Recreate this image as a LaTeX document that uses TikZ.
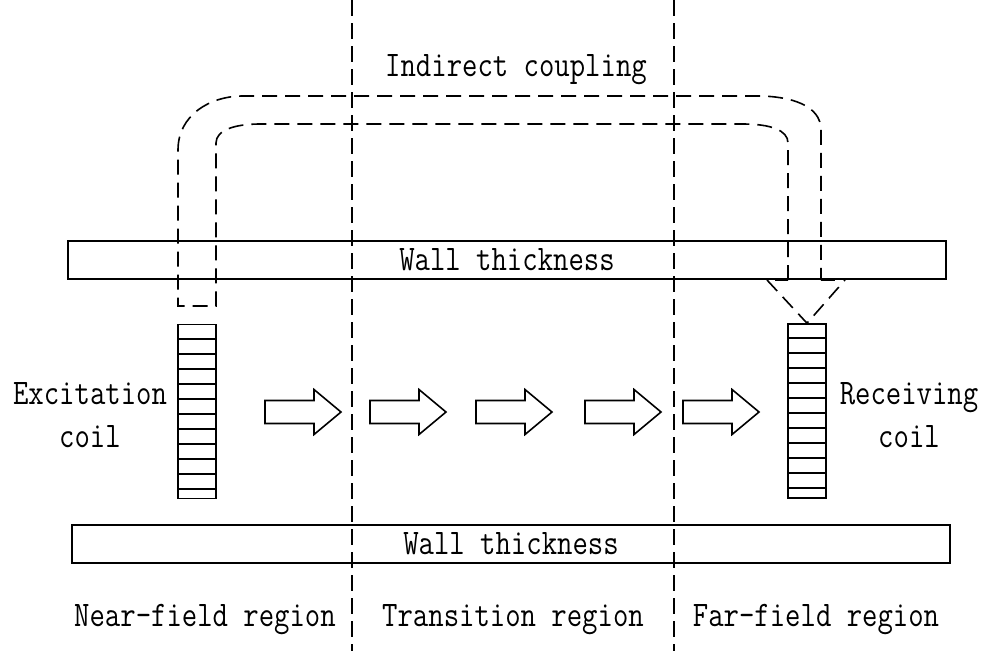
\documentclass[tikz,border=0pt]{standalone}
\usepackage{fontspec}
\setmainfont{Latin Modern Mono}[FakeStretch=0.83]
\usetikzlibrary{calc}

\begin{document}
\begin{tikzpicture}[
  x=1pt, y=-1pt,
  font=\fontsize{36}{43}\selectfont,
  wall/.style={rectangle, draw, line width=1.6pt, inner sep=0pt,
               minimum width=878pt, minimum height=38pt},
  coil/.style={rectangle, draw, line width=1.6pt, inner sep=0pt,
               minimum width=38pt, minimum height=174pt},
  lab/.style={inner sep=0pt, align=center},
  divider/.style={line width=1.6pt, dash pattern=on 16pt off 7pt},
  loop/.style={line width=1.6pt, dash pattern=on 15pt off 8pt},
  flow/.pic={\draw[line width=1.6pt, line join=miter]
      (0,-11.5) -- (49,-11.5) -- (49,-22.5) -- (76,0) -- (49,22.5)
      -- (49,11.5) -- (0,11.5) -- cycle;},
]
\useasboundingbox (0,0) rectangle (984,651);

% ---------------------------------------------------------------- region borders
\draw[divider] (352,0) -- (352,651);
\draw[divider] (674,0) -- (674,651);

% ---------------------------------------------------------------- walls
\node[wall] (topwall) at (507,260) {Wall thickness};
\node[wall] (botwall) at (511,544) {Wall thickness};

% ---------------------------------------------------------------- coils
\node[coil] (excite) at (197,411.5) {};
\node[coil] (receive) at (807,411) {};
\foreach \k in {1,...,11} {
  \draw[line width=1.6pt] ($(excite.north west)+(0,15*\k)$) -- ($(excite.north east)+(0,15*\k)$);
  \draw[line width=1.6pt] ($(receive.north west)+(0,15*\k)$) -- ($(receive.north east)+(0,15*\k)$);
}

\node[lab] (excitelab) at (90,415) {Excitation\\coil};
\node[lab] (receivelab) at (909,415) {Receiving\\coil};

% ---------------------------------------------------------------- field arrows
\foreach \x in {265,370,476,585,683}
  \pic at (\x,412) {flow};

% ---------------------------------------------------------------- indirect path
\coordinate (exitin) at (216,306);
\coordinate (exitout) at (178,306);
\coordinate (entin) at (788,280);
\coordinate (entout) at (821,280);
\coordinate (apex) at (receive.north);

\draw[loop] (entin) -- (788,143) .. controls (788,130) and (770,124) .. (743,124)
  -- (260,124) .. controls (235,124) and (216,130) .. (216,143)
  -- (exitin) -- (exitout) -- (178,150)
  .. controls (178,115) and (210,96) .. (243,96) -- (757,96)
  .. controls (790,96) and (821,105) .. (821,130) -- (entout);
\draw[line width=2.4pt] ($(entin)+(-13,0)$) -- (entin);
\draw[line width=2.4pt] (entout) -- ($(entout)+(14,0)$);
\draw[loop] ($(entin)+(-21,0)$) -- (apex) -- ($(entout)+(24,0)$);

\node (indirect) at (516,70) {Indirect coupling};

% ---------------------------------------------------------------- region names
\node (near) at (205,620) {Near-field region};
\node (trans) at (513,620) {Transition region};
\node (far) at (816,620) {Far-field region};
\end{tikzpicture}
\end{document}
